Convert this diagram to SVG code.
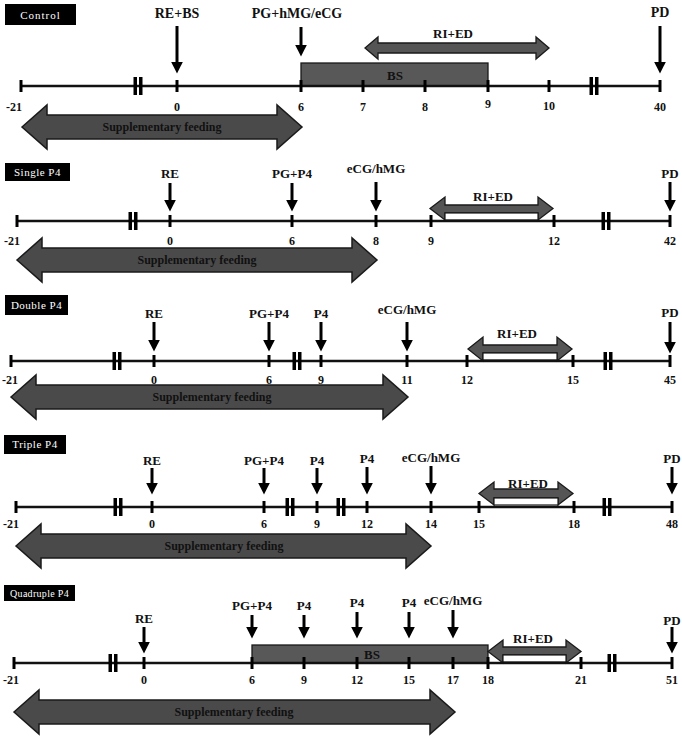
<svg xmlns="http://www.w3.org/2000/svg" xmlns:xlink="http://www.w3.org/1999/xlink" width="682" height="736" viewBox="0 0 682 736">
<style>
.bg{fill:#fff}
.tl{stroke:#111;stroke-width:2.5;fill:none}
.box{fill:#000}
.boxt{fill:#fff;font-family:"Liberation Serif",serif;font-size:11px;text-anchor:middle}
.ev{font-family:"Liberation Serif",serif;font-weight:bold;font-size:13px;text-anchor:middle;fill:#111}
.ev1{font-size:14px}
.num{font-family:"Liberation Serif",serif;font-weight:bold;font-size:12px;text-anchor:middle;fill:#111}
.evl{stroke:#000;stroke-width:3;marker-end:url(#ah)}
.big{fill:#4a4a4a;stroke:#1a1a1a;stroke-width:1.5;stroke-linejoin:miter}
.bigt{font-family:"Liberation Serif",serif;font-weight:bold;font-size:12px;text-anchor:middle;fill:#111}
.ri{fill:#555;stroke:#1a1a1a;stroke-width:1.3}
.wh{fill:#fff;stroke:#1a1a1a;stroke-width:1.2}
.bs{fill:#585858;stroke:#1a1a1a;stroke-width:1.3}
.bst{font-family:"Liberation Serif",serif;font-weight:bold;font-size:13px;text-anchor:middle;fill:#111}
</style>
<defs>
<marker id="ah" markerUnits="userSpaceOnUse" markerWidth="12" markerHeight="12" viewBox="0 0 10 10" refX="2" refY="5" orient="auto"><path d="M0,0 L10,5 L0,10 z" fill="#000"/></marker>
<g id="tick"><line x1="0" y1="-6" x2="0" y2="6" stroke="#000" stroke-width="3"/></g>
<g id="brk"><rect x="-4.5" y="-9" width="3.5" height="18" fill="#000"/><rect x="1" y="-9" width="3.5" height="18" fill="#000"/></g>
</defs>
<rect class="bg" x="0" y="0" width="682" height="736"/>

<!-- Panel 1: Control -->
<g id="control">
  <g id="control-title"><rect class="box" x="5" y="4" width="71" height="21"/><text class="boxt" x="40.5" y="18.5" letter-spacing="1">Control</text></g>
  <g id="control-bs"><rect class="bs" x="301" y="63" width="187" height="23"/><text class="bst" x="395" y="80">BS</text></g>
  <g id="control-timeline">
    <line class="tl" x1="21" y1="86" x2="660" y2="86"/>
    <use xlink:href="#tick" x="21" y="86"/><use xlink:href="#tick" x="177" y="86"/><use xlink:href="#tick" x="301" y="86"/>
    <use xlink:href="#tick" x="363" y="86"/><use xlink:href="#tick" x="425" y="86"/><use xlink:href="#tick" x="488" y="86"/>
    <use xlink:href="#tick" x="549" y="86"/><use xlink:href="#tick" x="660" y="86"/>
    <use xlink:href="#brk" x="138" y="86"/><use xlink:href="#brk" x="594" y="86"/>
    <text class="num" x="14" y="111">-21</text><text class="num" x="177" y="111">0</text><text class="num" x="301" y="111">6</text>
    <text class="num" x="363" y="111">7</text><text class="num" x="425" y="111">8</text><text class="num" x="488" y="108">9</text>
    <text class="num" x="549" y="110">10</text><text class="num" x="660" y="111">40</text>
  </g>
  <g id="control-labels">
    <text class="ev ev1" x="177" y="18">RE+BS</text>
    <text class="ev ev1" x="297" y="18">PG+hMG/eCG</text>
    <text class="ev ev1" x="660" y="17">PD</text>
  </g>
  <g id="control-ried"><polygon class="ri" points="365,48 378,37 378,43 536,43 536,37 549,48 536,59 536,53 378,53 378,59"/><text class="ev" x="453" y="38">RI+ED</text></g>
  <g id="control-feed"><polygon class="big" points="22,127 47,105 47,115 277,115 277,105 302,127 277,149 277,139 47,139 47,149"/><text class="bigt" x="162" y="131">Supplementary feeding</text></g>
</g>

<!-- Panel 2: Single P4 -->
<g id="single">
  <g id="single-title"><rect class="box" x="5" y="163" width="65" height="18"/><text class="boxt" x="37.5" y="175.5" letter-spacing="0.5">Single P4</text></g>
  <g id="single-ried"><polygon class="ri" points="430,208.5 445,197 445,205 538,205 538,197 553,208.5 538,220 538,213 445,213 445,220"/><rect class="wh" x="445" y="213" width="93" height="7"/><text class="ev" x="493" y="201">RI+ED</text></g>
  <g id="single-timeline">
    <line class="tl" x1="17" y1="221" x2="670" y2="221"/>
    <use xlink:href="#tick" x="17" y="221"/><use xlink:href="#tick" x="170" y="221"/><use xlink:href="#tick" x="292" y="221"/>
    <use xlink:href="#tick" x="376" y="221"/><use xlink:href="#tick" x="431" y="221"/><use xlink:href="#tick" x="554" y="221"/>
    <use xlink:href="#tick" x="670" y="221"/>
    <use xlink:href="#brk" x="133" y="221"/><use xlink:href="#brk" x="606" y="221"/>
    <text class="num" x="12" y="245">-21</text><text class="num" x="170" y="245">0</text><text class="num" x="292" y="245">6</text>
    <text class="num" x="376" y="245">8</text><text class="num" x="431" y="245">9</text><text class="num" x="554" y="245">12</text>
    <text class="num" x="670" y="245">42</text>
  </g>
  <g id="single-labels">
    <text class="ev" x="170" y="178">RE</text>
    <text class="ev" x="292" y="178">PG+P4</text>
    <text class="ev" x="376" y="173">eCG/hMG</text>
    <text class="ev" x="670" y="178">PD</text>
  </g>
  <g id="single-feed"><polygon class="big" points="17,260 42,238 42,248 352,248 352,238 377,260 352,282 352,272 42,272 42,282"/><text class="bigt" x="197" y="264">Supplementary feeding</text></g>
</g>

<!-- Panel 3: Double P4 -->
<g id="double">
  <g id="double-title"><rect class="box" x="5" y="295" width="63" height="20"/><text class="boxt" x="36.5" y="308.5" letter-spacing="0.5">Double P4</text></g>
  <g id="double-ried"><polygon class="ri" points="468,349 483,337 483,345 557,345 557,337 572,349 557,361 557,353 483,353 483,361"/><rect class="wh" x="483" y="353" width="74" height="7"/><text class="ev" x="517" y="338">RI+ED</text></g>
  <g id="double-timeline">
    <line class="tl" x1="11" y1="361" x2="670" y2="361"/>
    <use xlink:href="#tick" x="11" y="361"/><use xlink:href="#tick" x="154" y="361"/><use xlink:href="#tick" x="269" y="361"/>
    <use xlink:href="#tick" x="321" y="361"/><use xlink:href="#tick" x="407" y="361"/><use xlink:href="#tick" x="467" y="361"/>
    <use xlink:href="#tick" x="573" y="361"/><use xlink:href="#tick" x="670" y="361"/>
    <use xlink:href="#brk" x="117" y="361"/><use xlink:href="#brk" x="297" y="361"/><use xlink:href="#brk" x="608" y="361"/>
    <text class="num" x="10" y="384">-21</text><text class="num" x="154" y="384">0</text><text class="num" x="269" y="384">6</text>
    <text class="num" x="321" y="384">9</text><text class="num" x="407" y="384">11</text><text class="num" x="467" y="384">12</text>
    <text class="num" x="573" y="384">15</text><text class="num" x="670" y="384">45</text>
  </g>
  <g id="double-labels">
    <text class="ev" x="154" y="318">RE</text>
    <text class="ev" x="269" y="318">PG+P4</text>
    <text class="ev" x="321" y="318">P4</text>
    <text class="ev" x="407" y="314">eCG/hMG</text>
    <text class="ev" x="670" y="317">PD</text>
  </g>
  <g id="double-feed"><polygon class="big" points="11,397 36,375 36,385 383,385 383,375 408,397 383,419 383,409 36,409 36,419"/><text class="bigt" x="212" y="401">Supplementary feeding</text></g>
</g>

<!-- Panel 4: Triple P4 -->
<g id="triple">
  <g id="triple-title"><rect class="box" x="4" y="435" width="62" height="19"/><text class="boxt" x="35" y="448" letter-spacing="0.5">Triple P4</text></g>
  <g id="triple-ried"><polygon class="ri" points="479,493.5 494,482 494,489 558,489 558,482 573,493.5 558,505 558,498 494,498 494,505"/><rect class="wh" x="494" y="498" width="64" height="7"/><text class="ev" x="528" y="488">RI+ED</text></g>
  <g id="triple-timeline">
    <line class="tl" x1="16" y1="507" x2="672" y2="507"/>
    <use xlink:href="#tick" x="16" y="507"/><use xlink:href="#tick" x="152" y="507"/><use xlink:href="#tick" x="264" y="507"/>
    <use xlink:href="#tick" x="317" y="507"/><use xlink:href="#tick" x="367" y="507"/><use xlink:href="#tick" x="431" y="507"/>
    <use xlink:href="#tick" x="479" y="507"/><use xlink:href="#tick" x="574" y="507"/><use xlink:href="#tick" x="672" y="507"/>
    <use xlink:href="#brk" x="118" y="507"/><use xlink:href="#brk" x="290" y="507"/><use xlink:href="#brk" x="341" y="507"/><use xlink:href="#brk" x="607" y="507"/>
    <text class="num" x="11" y="528">-21</text><text class="num" x="152" y="528">0</text><text class="num" x="264" y="528">6</text>
    <text class="num" x="317" y="528">9</text><text class="num" x="367" y="528">12</text><text class="num" x="431" y="528">14</text>
    <text class="num" x="479" y="528">15</text><text class="num" x="574" y="528">18</text><text class="num" x="672" y="528">48</text>
  </g>
  <g id="triple-labels">
    <text class="ev" x="152" y="465">RE</text>
    <text class="ev" x="264" y="465">PG+P4</text>
    <text class="ev" x="317" y="465">P4</text>
    <text class="ev" x="367" y="463">P4</text>
    <text class="ev" x="431" y="462">eCG/hMG</text>
    <text class="ev" x="672" y="463">PD</text>
  </g>
  <g id="triple-feed"><polygon class="big" points="16,546 41,524 41,534 406,534 406,524 431,546 406,568 406,558 41,558 41,568"/><text class="bigt" x="224" y="550">Supplementary feeding</text></g>
</g>

<!-- Panel 5: Quadruple P4 -->
<g id="quadruple">
  <g id="quadruple-title"><rect class="box" x="4" y="585" width="71" height="16"/><text class="boxt" x="39.5" y="597" style="font-size:10px" letter-spacing="0.3">Quadruple P4</text></g>
  <g id="quadruple-bs"><rect class="bs" x="252" y="645" width="236" height="18"/><text class="bst" x="372" y="659">BS</text></g>
  <g id="quadruple-ried"><polygon class="ri" points="488,651.5 503,640 503,647 566,647 566,640 581,651.5 566,663 566,655 503,655 503,663"/><rect class="wh" x="503" y="655" width="63" height="7"/><text class="ev" x="533" y="643">RI+ED</text></g>
  <g id="quadruple-timeline">
    <line class="tl" x1="14" y1="663" x2="672" y2="663"/>
    <use xlink:href="#tick" x="14" y="663"/><use xlink:href="#tick" x="144" y="663"/><use xlink:href="#tick" x="252" y="663"/>
    <use xlink:href="#tick" x="304" y="663"/><use xlink:href="#tick" x="357" y="663"/><use xlink:href="#tick" x="409" y="663"/>
    <use xlink:href="#tick" x="453" y="663"/><use xlink:href="#tick" x="488" y="663"/><use xlink:href="#tick" x="581" y="663"/>
    <use xlink:href="#tick" x="672" y="663"/>
    <use xlink:href="#brk" x="113" y="663"/><use xlink:href="#brk" x="612" y="663"/>
    <text class="num" x="11" y="684">-21</text><text class="num" x="144" y="684">0</text><text class="num" x="252" y="684">6</text>
    <text class="num" x="304" y="684">9</text><text class="num" x="357" y="684">12</text><text class="num" x="409" y="684">15</text>
    <text class="num" x="453" y="684">17</text><text class="num" x="488" y="684">18</text><text class="num" x="581" y="684">21</text>
    <text class="num" x="672" y="684">51</text>
  </g>
  <g id="quadruple-labels">
    <text class="ev" x="144" y="623">RE</text>
    <text class="ev" x="252" y="610">PG+P4</text>
    <text class="ev" x="304" y="610">P4</text>
    <text class="ev" x="357" y="607">P4</text>
    <text class="ev" x="409" y="607">P4</text>
    <text class="ev" x="453" y="605">eCG/hMG</text>
    <text class="ev" x="672" y="625">PD</text>
  </g>
  <g id="quadruple-feed"><polygon class="big" points="14,712 39,690 39,700 430,700 430,690 455,712 430,734 430,724 39,724 39,734"/><text class="bigt" x="234" y="716">Supplementary feeding</text></g>
</g>

<!-- Connectors: event arrows -->
<g id="connectors">
  <line class="evl" x1="177" y1="26" x2="177" y2="64"/>
  <line class="evl" x1="301" y1="27" x2="301" y2="47"/>
  <line class="evl" x1="660" y1="26" x2="660" y2="64"/>

  <line class="evl" x1="170" y1="183" x2="170" y2="202"/>
  <line class="evl" x1="292" y1="183" x2="292" y2="202"/>
  <line class="evl" x1="376" y1="182" x2="376" y2="202"/>
  <line class="evl" x1="670" y1="182" x2="670" y2="202"/>

  <line class="evl" x1="154" y1="322" x2="154" y2="342"/>
  <line class="evl" x1="269" y1="322" x2="269" y2="342"/>
  <line class="evl" x1="321" y1="322" x2="321" y2="342"/>
  <line class="evl" x1="407" y1="322" x2="407" y2="342"/>
  <line class="evl" x1="670" y1="322" x2="670" y2="344"/>

  <line class="evl" x1="152" y1="468" x2="152" y2="485"/>
  <line class="evl" x1="264" y1="468" x2="264" y2="485"/>
  <line class="evl" x1="317" y1="468" x2="317" y2="485"/>
  <line class="evl" x1="367" y1="467" x2="367" y2="485"/>
  <line class="evl" x1="431" y1="466" x2="431" y2="485"/>
  <line class="evl" x1="672" y1="467" x2="672" y2="485"/>

  <line class="evl" x1="144" y1="627" x2="144" y2="644"/>
  <line class="evl" x1="252" y1="615" x2="252" y2="629"/>
  <line class="evl" x1="304" y1="615" x2="304" y2="629"/>
  <line class="evl" x1="357" y1="612" x2="357" y2="629"/>
  <line class="evl" x1="409" y1="612" x2="409" y2="629"/>
  <line class="evl" x1="453" y1="610" x2="453" y2="629"/>
  <line class="evl" x1="672" y1="627" x2="672" y2="644"/>
</g>
</svg>
